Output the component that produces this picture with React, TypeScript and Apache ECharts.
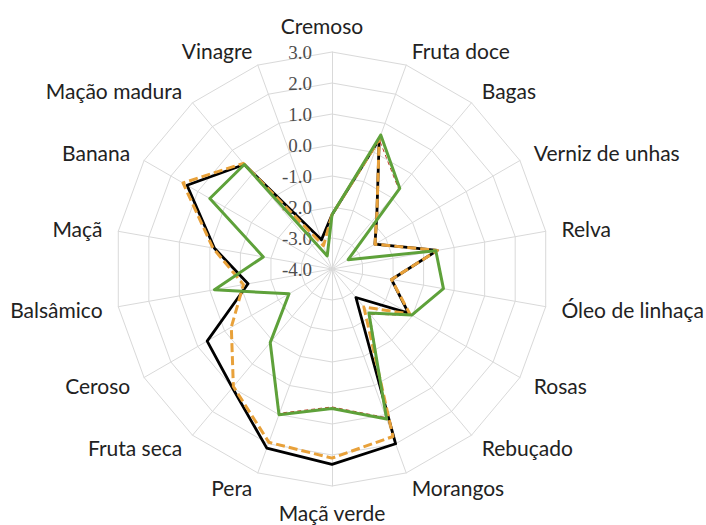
import React, { useEffect, useRef } from "react";
import * as echarts from "echarts";

// Attributes in clockwise order starting from the top
const categories = [
  "Cremoso", "Fruta doce", "Bagas", "Verniz de unhas", "Relva", "Óleo de linhaça",
  "Rosas", "Rebuçado", "Morangos", "Maçã verde", "Pera", "Fruta seca",
  "Ceroso", "Balsâmico", "Maçã", "Banana", "Mação madura", "Vinagre",
];

const seriesBlack = [-2.25, 0.45, -1.75, -2.4, -0.55, -2.05, -1.15, -2.8, 2.0, 2.3, 2.15, 1.0, 0.65, -1.25, -0.15, 1.4, 0.4, -3.0];
const seriesOrange = [-2.25, 0.45, -1.75, -2.4, -0.55, -2.05, -1.1, -2.4, 1.75, 2.1, 1.95, 0.95, -0.25, -1.1, -0.1, 1.55, 0.45, -3.2];
const seriesRed = [-2.3, 0.45, -0.65, -3.4, -0.6, -0.35, -1.0, -2.1, 1.1, 0.45, 0.95, -0.9, -2.4, -0.2, -1.75, 0.55, 0.4, -3.5];
const seriesGreen = [-2.25, 0.6, -0.6, -3.4, -0.6, -0.35, -1.03, -2.15, 1.15, 0.5, 1.0, -0.9, -2.4, -0.15, -1.75, 0.55, 0.4, -3.55];

const tickLabels = ["-4.0", "-3.0", "-2.0", "-1.0", "0.0", "1.0", "2.0", "3.0"];
const axisMin = -4;
const axisMax = 3;

// ECharts places radar indicators counter-clockwise; reorder clockwise lists
const ccwOrder = [0, ...categories.map((_, i) => i).slice(1).reverse()];
const toCcw = (arr: any[]) => ccwOrder.map((i) => arr[i]);

export default function App() {
  const ref = useRef<HTMLDivElement>(null);
  useEffect(() => {
    if (!ref.current) return;
    const chart = echarts.init(ref.current, null, { renderer: "svg" });
    const indicator = toCcw(categories).map((name: string, i: number) => {
      const ind: any = { name, min: axisMin, max: axisMax };
      if (i === 0) {
        ind.axisLabel = {
          show: true,
          fontFamily: "Liberation Serif",
          fontSize: 19,
          color: "#4d4d4d",
          margin: 20,
          formatter: (v: number) => {
            const idx = Math.round(v - axisMin);
            return tickLabels[idx] ?? v.toFixed(1);
          },
        };
      }
      return ind;
    });
    const mk = (name: string, data: number[], color: string, width: number, type: any, z: number) => ({
      type: "radar",
      name,
      z,
      symbol: "none",
      lineStyle: { color, width, type },
      itemStyle: { color },
      data: [{ value: toCcw(data), name }],
    });
    chart.setOption({
      animation: false,
      backgroundColor: "#ffffff",
      radar: {
        center: [332, 269],
        radius: 217,
        startAngle: 90,
        shape: "polygon",
        splitNumber: 7,
        nameGap: 16,
        axisName: {
          color: "#222222",
          fontFamily: "Lato",
          fontSize: 21,
          formatter: (name: string) => (name === categories[0] ? `{top|${name}}` : name),
          rich: {
            top: { fontFamily: "Lato", fontSize: 21, color: "#222222", padding: [0, 20, 0, 0] },
          },
        },
        axisLine: { lineStyle: { color: "#d9d9d9", width: 1 } },
        splitLine: { lineStyle: { color: "#d9d9d9", width: 1 } },
        splitArea: { show: false },
        axisTick: { show: false },
        axisLabel: { show: false },
        indicator,
      },
      series: [
        mk("A", seriesBlack, "#000000", 2.8, "solid", 2),
        mk("B", seriesOrange, "#e8a13a", 3, [9, 4], 3),
        mk("C", seriesRed, "#c0392b", 1, [4, 3], 4),
        mk("D", seriesGreen, "#5ea13a", 3, "solid", 5),
      ],
    });
    return () => chart.dispose();
  }, []);
  return (
    <div
      ref={ref}
      style={{ position: "fixed", left: 0, top: 0, width: 706, height: 525, background: "#fff" }}
    />
  );
}
